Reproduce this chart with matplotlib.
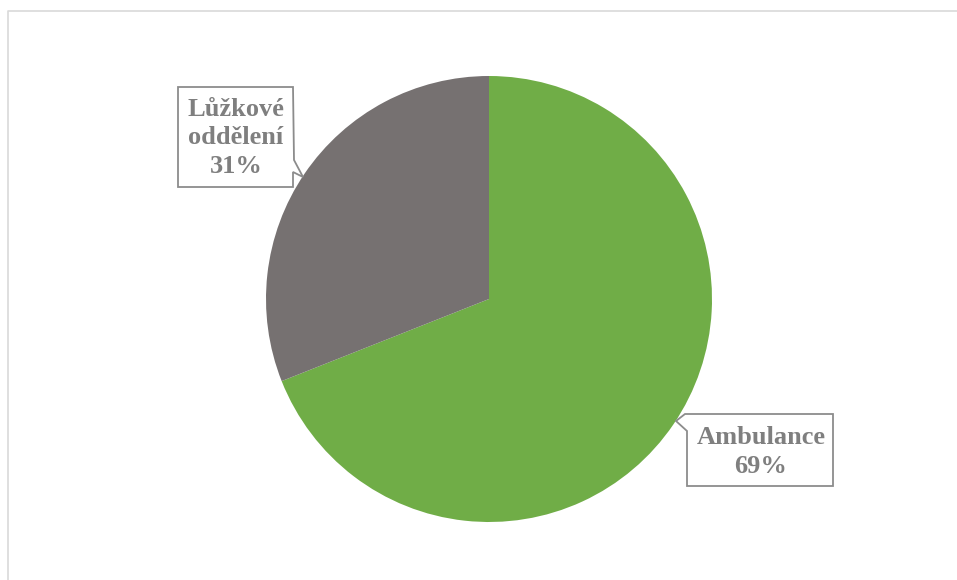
import matplotlib
matplotlib.use("Agg")
import matplotlib.pyplot as plt
from matplotlib.patches import Polygon
from matplotlib.lines import Line2D

labels = ["Ambulance", "Lůžkové\noddělení"]
values = [69, 31]
colors = ["#70AD47", "#767171"]

W, H = 957, 580
TXT = "#7f7f7f"
EDGE = "#8c8c8c"


def px(x, y):
    # pixel (top-left origin) -> figure fraction
    return (x / W, 1 - y / H)


fig = plt.figure(figsize=(W / 100, H / 100), dpi=100)

# outer chart frame (light gray, only top and left visible)
fig.add_artist(Line2D([8 / W, 8 / W, 1.0], [0.0, 1 - 11 / H, 1 - 11 / H],
                      transform=fig.transFigure, color="#d9d9d9", lw=1.2))

cx, cy, r = 489, 299, 223
ax = fig.add_axes([(cx - r) / W, 1 - (cy + r) / H, 2 * r / W, 2 * r / H])
ax.pie(values, colors=colors, startangle=90, counterclock=False, radius=1,
       wedgeprops=dict(linewidth=0))
ax.set_xlim(-1, 1)
ax.set_ylim(-1, 1)
ax.set_aspect("equal")
ax.axis("off")

# callout boxes (outline with pointer) in pixel coords
callouts = [
    # Ambulance: box right of pie, pointer on upper-left edge
    dict(poly=[(687, 414), (833, 414), (833, 486), (687, 486), (687, 431),
               (676, 421), (685, 414)],
         center=(761, 452)),
    # Lůžkové oddělení: box upper left, pointer on lower-right edge
    dict(poly=[(178, 87), (293, 87), (294, 160), (303, 177), (293, 172),
               (293, 187), (178, 187)],
         center=(236, 138)),
]

total = sum(values)
for lab, val, co in zip(labels, values, callouts):
    pts = [px(x, y) for x, y in co["poly"]]
    fig.add_artist(Polygon(pts, closed=True, transform=fig.transFigure,
                           facecolor="white", edgecolor=EDGE, lw=1.3,
                           joinstyle="miter", zorder=5))
    tx, ty = px(*co["center"])
    fig.text(tx, ty, f"{lab}\n{round(val / total * 100)}%", ha="center",
             va="center", family="Liberation Serif", fontweight="bold",
             fontsize=19, color=TXT, linespacing=1.33, zorder=6)

fig.savefig("out.png", dpi=100)
